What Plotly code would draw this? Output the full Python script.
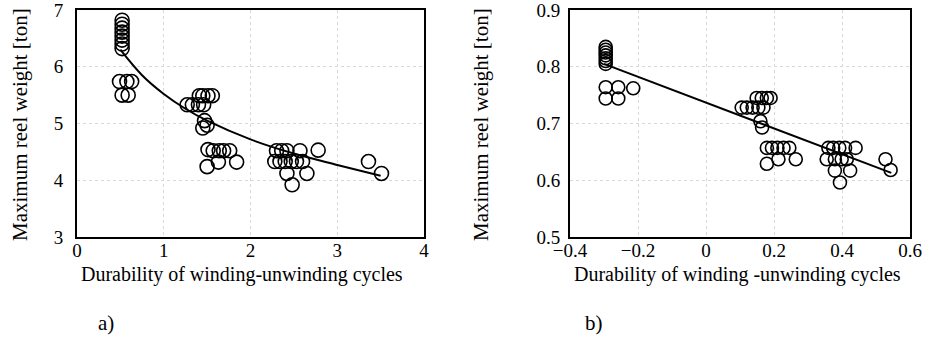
import plotly.graph_objects as go

# ---------------- Panel a) ----------------
a_x = [0.52, 0.52, 0.52, 0.52, 0.52, 0.52, 0.52, 0.52,
       0.49, 0.575, 0.63, 0.52, 0.59,
       1.41, 1.45, 1.51, 1.56, 1.27, 1.33, 1.40, 1.46,
       1.47, 1.50, 1.45,
       1.51, 1.57, 1.64, 1.69, 1.76,
       1.50, 1.63, 1.84,
       2.30, 2.36, 2.42, 2.57, 2.78,
       2.28, 2.34, 2.40, 2.47, 2.53, 2.60,
       2.42, 2.65, 2.48,
       3.36, 3.51]
a_y = [6.32, 6.40, 6.47, 6.54, 6.61, 6.68, 6.75, 6.82,
       5.74, 5.74, 5.74, 5.50, 5.50,
       5.49, 5.49, 5.49, 5.49, 5.33, 5.33, 5.33, 5.33,
       5.05, 4.97, 4.92,
       4.54, 4.52, 4.52, 4.52, 4.52,
       4.24, 4.32, 4.32,
       4.52, 4.52, 4.52, 4.52, 4.53,
       4.33, 4.33, 4.33, 4.33, 4.33, 4.33,
       4.12, 4.12, 3.92,
       4.33, 4.12]
a_fit_x = [0.5, 0.75, 1.0, 1.25, 1.5, 2.0, 2.5, 3.0, 3.5]
a_fit_y = [6.30, 5.85, 5.52, 5.26, 5.05, 4.72, 4.47, 4.27, 4.08]

# ---------------- Panel b) ----------------
b_x = [-0.295, -0.295, -0.295, -0.295, -0.295, -0.295, -0.295,
       -0.295, -0.295, -0.258, -0.258, -0.214,
       0.149, 0.164, 0.179, 0.190,
       0.105, 0.120, 0.137, 0.154, 0.169,
       0.160, 0.165,
       0.179, 0.194, 0.210, 0.228, 0.245,
       0.179, 0.213, 0.264,
       0.360, 0.374, 0.392, 0.409, 0.440,
       0.355, 0.379, 0.399, 0.414,
       0.379, 0.424, 0.394,
       0.528, 0.543]
b_y = [0.805, 0.810, 0.815, 0.820, 0.825, 0.830, 0.835,
       0.764, 0.744, 0.764, 0.744, 0.762,
       0.745, 0.745, 0.745, 0.745,
       0.728, 0.728, 0.728, 0.728, 0.728,
       0.704, 0.693,
       0.657, 0.657, 0.657, 0.657, 0.657,
       0.629, 0.637, 0.637,
       0.657, 0.657, 0.657, 0.657, 0.657,
       0.637, 0.637, 0.637, 0.637,
       0.617, 0.617, 0.596,
       0.637, 0.618]
b_fit_x = [-0.30, 0.545]
b_fit_y = [0.805, 0.613]

FONT = "Liberation Serif"

fig = go.Figure()
marker = dict(symbol="circle-open", size=14, color="black", line=dict(width=1.6, color="black"))

fig.add_trace(go.Scatter(x=a_x, y=a_y, mode="markers", marker=marker, xaxis="x", yaxis="y", showlegend=False))
fig.add_trace(go.Scatter(x=a_fit_x, y=a_fit_y, mode="lines", line=dict(color="black", width=2, shape="spline"),
                         xaxis="x", yaxis="y", showlegend=False))
fig.add_trace(go.Scatter(x=b_x, y=b_y, mode="markers", marker=dict(marker, size=13), xaxis="x2", yaxis="y2", showlegend=False))
fig.add_trace(go.Scatter(x=b_fit_x, y=b_fit_y, mode="lines", line=dict(color="black", width=2),
                         xaxis="x2", yaxis="y2", showlegend=False))

W, H = 929, 353
ax_common = dict(showline=True, linecolor="black", linewidth=2, mirror=True, ticks="",
                 zeroline=False, automargin=False, ticklabeloverflow="allow",
                 tickfont=dict(family=FONT, size=19, color="black"),
                 showgrid=True, gridcolor="#d8d8d8", griddash="dot", gridwidth=1)

fig.update_layout(
    width=W, height=H,
    margin=dict(l=0, r=0, t=0, b=0),
    font=dict(family=FONT, color="black"),
    paper_bgcolor="white", plot_bgcolor="white",
    xaxis=dict(ax_common, domain=[77 / W, 424 / W], range=[0, 4], tickvals=[0, 1, 2, 3, 4], anchor="y",
               ticklabelstandoff=-5),
    yaxis=dict(ax_common, domain=[1 - 237 / H, 1 - 10 / H], range=[3, 7], tickvals=[3, 4, 5, 6, 7], anchor="x",
               ticklabelstandoff=8),
    xaxis2=dict(ax_common, domain=[570 / W, 910 / W], range=[-0.4, 0.6],
                tickvals=[-0.4, -0.2, 0, 0.2, 0.4, 0.6], anchor="y2", ticklabelstandoff=-5),
    yaxis2=dict(ax_common, domain=[1 - 237 / H, 1 - 10 / H], range=[0.5, 0.9],
                tickvals=[0.5, 0.6, 0.7, 0.8, 0.9], tickformat=".1f", anchor="x2", ticklabelstandoff=4),
)

def ann(text, x, y, size=20, angle=0):
    fig.add_annotation(text=text, x=x / W, y=1 - y / H, xref="paper", yref="paper",
                       showarrow=False, textangle=angle, xanchor="center", yanchor="middle",
                       font=dict(family=FONT, size=size, color="black"))

ann("Maximum reel weight [ton]", 20, 125, size=21, angle=-90)
ann("Maximum reel weight [ton]", 481, 125, size=21, angle=-90)
ann("Durability of winding-unwinding cycles", 242, 274)
ann("Durability of winding -unwinding cycles", 737, 274)
ann("a)", 106, 323, size=21)
ann("b)", 594, 323, size=21)

fig.write_html("out.html", config={"displayModeBar": False},
               post_script="document.body.style.margin='0';document.body.style.overflow='hidden';")
